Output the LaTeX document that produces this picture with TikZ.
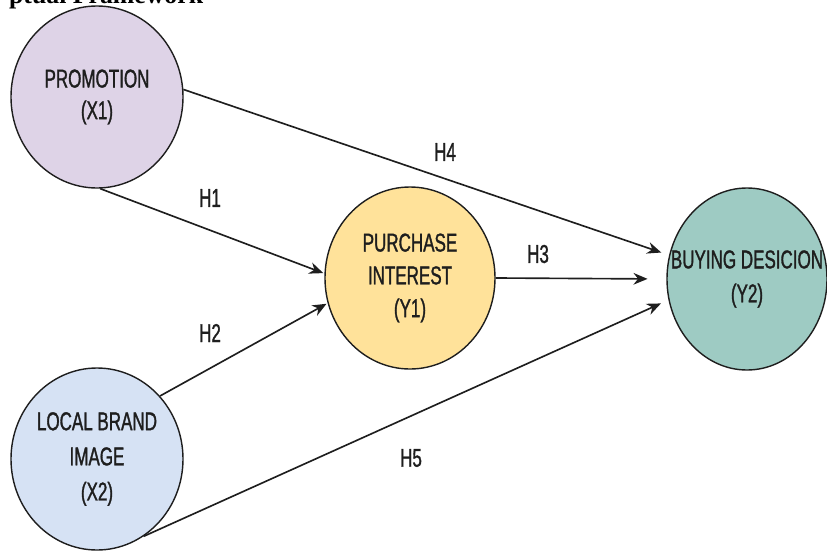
\documentclass[tikz,border=0pt]{standalone}
\usepackage{fontspec}
\usetikzlibrary{shapes.geometric,arrows.meta}
\newfontfamily\narrowsf[FakeStretch=0.66,FakeBold=1.2]{Liberation Sans}
\newfontfamily\titleserif{Liberation Serif}
\definecolor{promofill}{HTML}{DED3E7}
\definecolor{brandfill}{HTML}{D6E2F4}
\definecolor{interestfill}{HTML}{FFE29A}
\definecolor{decisionfill}{HTML}{9ECBC3}
\definecolor{inkgray}{HTML}{1E1E1E}
\tikzset{
  var/.style={ellipse, draw=inkgray, line width=1.2pt, minimum width=5.16cm, minimum height=5.46cm, inner sep=0pt},
  vartext/.style={font=\narrowsf\fontsize{22}{27}\selectfont, text=inkgray, align=center},
  hlabel/.style={font=\narrowsf\fontsize{22}{27}\selectfont, text=inkgray},
  path/.style={->, draw=inkgray, line width=1.4pt}
}
\begin{document}
\begin{tikzpicture}[x=0.03cm, y=-0.03cm, >={Stealth[length=12pt,width=10pt]}, line join=round]
  \useasboundingbox (0,0) rectangle (827,552);
  \node[anchor=base west, font=\titleserif\bfseries\fontsize{22}{26}\selectfont] (ttl) at (5,3) {ptual Framework};
  % constructs
  \node[var, fill=promofill] (x1) at (97,97) {};
  \node[var, fill=brandfill] (x2) at (97,459) {};
  \node[var, fill=interestfill, minimum width=5.1cm] (y1) at (410,278) {};
  \node[var, fill=decisionfill, minimum width=4.8cm] (y2) at (747,279) {};
  \node[vartext] (x1t) at (x1) {PROMOTION\\(X1)};
  \node[vartext, font=\narrowsf\fontsize{22}{30}\selectfont] (x2t) at (x2) {LOCAL BRAND\\IMAGE\\(X2)};
  \node[vartext, font=\narrowsf\fontsize{22}{28}\selectfont] (y1t) at (y1) {PURCHASE\\INTEREST\\(Y1)};
  \node[vartext, font=\narrowsf\fontsize{22}{29}\selectfont] (y2t) at (y2) {BUYING DESICION\\(Y2)};
  % hypotheses
  \draw[path, shorten >=7pt] (x1.5) -- (y2.163);
  \draw[path, shorten >=1pt] (x1.-88) -- (y1.177);
  \draw[path, shorten >=1pt] (x2.45) -- (y1.-163);
  \draw[path, shorten >=16pt] (y1.east) -- (y2.west);
  \draw[path, shorten >=7pt] (x2.-59) -- (y2.-165);
  \node[hlabel] (h1) at (210,198) {H1};
  \node[hlabel] (h2) at (210,333) {H2};
  \node[hlabel] (h3) at (538,254) {H3};
  \node[hlabel] (h4) at (445,152) {H4};
  \node[hlabel] (h5) at (411,458) {H5};
\end{tikzpicture}
\end{document}
